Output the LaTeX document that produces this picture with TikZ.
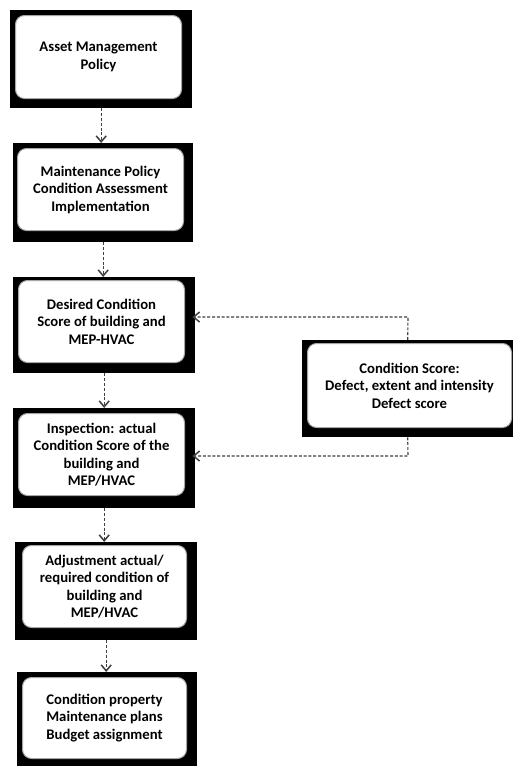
\documentclass[tikz,border=0pt]{standalone}
\usepackage{fontspec}
\setmainfont{Carlito}
\usetikzlibrary{arrows.meta}
\tikzset{
  blk/.style={fill=black, draw=none, inner sep=0pt, anchor=north west},
  wbox/.style={fill=white, draw=gray!70, line width=1pt, rounded corners=9pt, inner sep=0pt, anchor=north west,
    align=center, font=\bfseries\fontsize{14.7}{17.5}\selectfont},
  conn/.style={draw=black!75, line width=1.1pt, dash pattern=on 3pt off 1.8pt,
    -{Straight Barb[length=6pt,width=10pt,line width=1.5pt]}}
}
\begin{document}
\begin{tikzpicture}[x=1pt,y=-1pt]
\useasboundingbox (0,0) rectangle (513,766);
\fill[white] (0,0) rectangle (513,766);
% box 1
\node[blk, minimum width=182pt, minimum height=98pt] (b1) at (10,10) {};
\node[wbox, minimum width=166pt, minimum height=83pt] (w1) at (15,15) {Asset Management\\Policy};
% box 2
\node[blk, minimum width=180pt, minimum height=99pt] (b2) at (13,143) {};
\node[wbox, minimum width=166pt, minimum height=82pt] (w2) at (17,148) {Maintenance Policy\\Condition Assessment\\Implementation};
% box 3
\node[blk, minimum width=182pt, minimum height=96pt] (b3) at (13,277) {};
\node[wbox, minimum width=166pt, minimum height=82pt] (w3) at (18,280) {Desired Condition\\Score of building and\\MEP-HVAC};
% box 4
\node[blk, minimum width=182pt, minimum height=100pt] (b4) at (13,408) {};
\node[wbox, minimum width=166pt, minimum height=82pt] (w4) at (18,413) {Inspection: actual\\Condition Score of the\\building and\\MEP/HVAC};
% box 5
\node[blk, minimum width=182pt, minimum height=98pt] (b5) at (15,542) {};
\node[wbox, minimum width=164pt, minimum height=82pt] (w5) at (22,545) {Adjustment actual/\\required condition of\\building and\\MEP/HVAC};
% box 6
\node[blk, minimum width=180pt, minimum height=94pt] (b6) at (17,672) {};
\node[wbox, minimum width=164pt, minimum height=81pt] (w6) at (22,677) {Condition property\\Maintenance plans\\Budget assignment};
% right box
\node[blk, minimum width=211pt, minimum height=97pt] (br) at (302,340) {};
\node[wbox, minimum width=204pt, minimum height=84pt] (wr) at (307,343) {Condition Score:\\Defect, extent and intensity\\Defect score};
% vertical connectors
\draw[conn] (b1.south) -- (b1.south |- b2.north);
\draw[conn] (b2.south) -- (b2.south |- b3.north);
\draw[conn] (b3.south) -- (b3.south |- b4.north);
\draw[conn] (b4.south) -- (b4.south |- b5.north);
\draw[conn] (b5.south) -- (b5.south |- b6.north);
% side connectors
\coordinate (c1) at (408,317);
\coordinate (c2) at (408,456);
\draw[conn] (br.north) -- (c1) -- ([xshift=-3pt]c1 -| b3.east);
\draw[conn] (br.south) -- (c2) -- ([xshift=-3pt]c2 -| b4.east);
\end{tikzpicture}
\end{document}
